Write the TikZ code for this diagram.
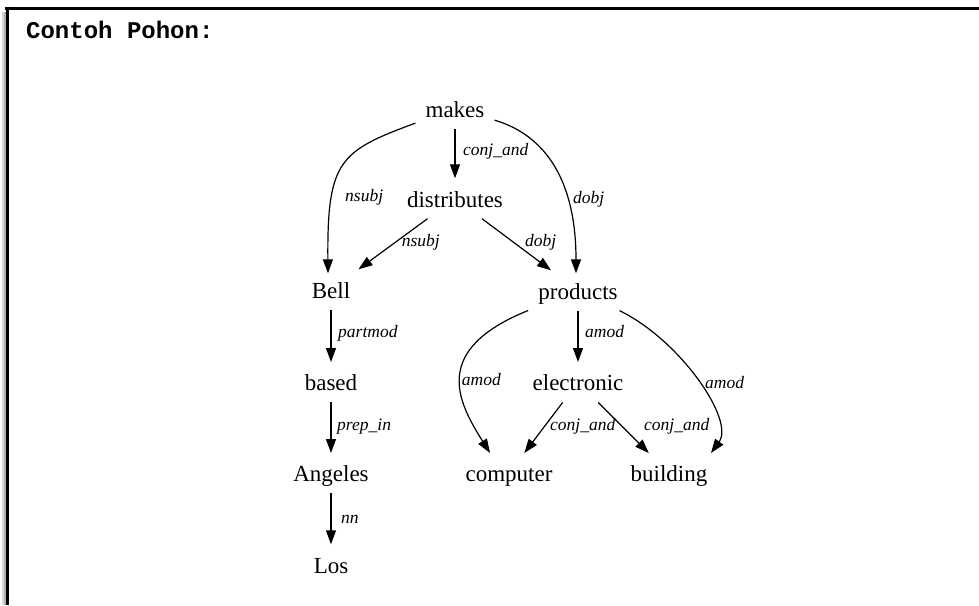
\documentclass[tikz,border=0pt]{standalone}
\usepackage{fontspec}
\setmainfont{Liberation Serif}
\newfontfamily\titlefont{Liberation Mono}
\usetikzlibrary{arrows.meta}
\begin{document}
\begin{tikzpicture}[x=1pt,y=-1pt,
  word/.style={font=\fontsize{23}{27}\selectfont, text height=22pt, text depth=5pt,
               inner xsep=10pt, inner ysep=6.5pt, anchor=base},
  lbl/.style={font=\fontsize{17.5}{20}\selectfont\itshape, inner sep=0pt, anchor=base west},
  arr/.style={draw=black, line width=1.2pt, -{Triangle[length=14pt,width=10pt]}},
  frameline/.style={draw=black, line width=3pt},
]
\useasboundingbox (0,0) rectangle (979,605);
% frame with shadow
\fill[gray!30] (1.5,12) rectangle (4,605);
\fill[gray!60] (4,12) rectangle (6,605);
\draw[frameline] (5,8) -- (979,8);
\draw[frameline] (7.5,6.5) -- (7.5,605);
% title
\node[anchor=base west, inner sep=0pt, font=\titlefont\bfseries\fontsize{24}{28}\selectfont] (title) at (26,38) {Contoh Pohon:};
% words
\node[word] (makes) at (455,117) {makes};
\node[word] (distributes) at (455,207) {distributes};
\node[word] (Bell) at (331,298) {Bell};
\node[word] (products) at (578,299) {products};
\node[word] (based) at (331,390.7) {based};
\node[word] (electronic) at (578,390.7) {electronic};
\node[word] (Angeles) at (331,481.7) {Angeles};
\node[word] (computer) at (509,481.7) {computer};
\node[word] (building) at (669,481.7) {building};
\node[word] (Los) at (331,573) {Los};
% connectors
\draw[arr] (makes.south) -- (distributes.north);
\draw[arr] (makes) .. controls (340,151) and (327,160) .. ([xshift=-3pt,yshift=-4pt]Bell.north);
\draw[arr] (makes) .. controls (545,135) and (576,180) .. ([xshift=-2pt,yshift=-3pt]products.north);
\draw[arr] (distributes) -- (Bell);
\draw[arr] (distributes) -- (products);
\draw[arr] (Bell.south) -- (based.north);
\draw[arr] (based.south) -- (Angeles.north);
\draw[arr] (Angeles.south) -- (Los.north);
\draw[arr] (products.south) -- (electronic.north);
\draw[arr] (products) .. controls (430,350) and (458,402) .. ([xshift=-19pt]computer.north);
\draw[arr] (products) .. controls (680,340) and (735,420) .. ([xshift=42pt]building.north);
\draw[arr] (electronic) -- (computer);
\draw[arr] (electronic) -- (building);
% labels
\node[lbl] (l1) at (463,155) {conj\_and};
\node[lbl] (l2) at (345,201.7) {nsubj};
\node[lbl] (l3) at (573,203) {dobj};
\node[lbl] (l4) at (401.7,246.7) {nsubj};
\node[lbl] (l5) at (525,246.7) {dobj};
\node[lbl] (l6) at (338,337) {partmod};
\node[lbl] (l7) at (585,337) {amod};
\node[lbl] (l8) at (461.7,385) {amod};
\node[lbl] (l9) at (705,388) {amod};
\node[lbl] (l10) at (550,430.7) {conj\_and};
\node[lbl] (l11) at (644,430) {conj\_and};
\node[lbl] (l12) at (337,430) {prep\_in};
\node[lbl] (l13) at (341,523) {nn};
\end{tikzpicture}
\end{document}
